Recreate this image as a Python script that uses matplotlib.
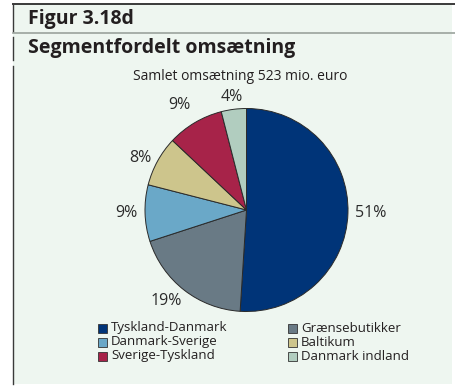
import matplotlib.pyplot as plt
from matplotlib.patches import Rectangle
from matplotlib.lines import Line2D

# omsaetning fordelt paa segmenter, procent
segments = ['Tyskland-Danmark', 'Grænsebutikker', 'Danmark-Sverige',
            'Baltikum', 'Sverige-Tyskland', 'Danmark indland']
shares = [51, 19, 9, 8, 9, 4]
colors = ['#003478', '#697a85', '#6aa8c8', '#cdc58c', '#a72349', '#b1cdbf']

W, H = 456, 387
bg = '#eef6f0'
txt = '#231f20'

plt.rcParams['font.family'] = ['Open Sans', 'DejaVu Sans']

fig = plt.figure(figsize=(W / 100, H / 100), dpi=100)
fig.patch.set_facecolor('white')

def px(x, y):
    return x / W, 1 - y / H

# baggrund og rammelinjer
fig.patches.append(Rectangle(px(13, 384), (452 - 13) / W, (384 - 4) / H,
                             transform=fig.transFigure, facecolor=bg,
                             edgecolor='none', zorder=-5))
for (x0, y0, x1, y1, c, lw) in [(13, 4, 456, 4, '#3a3a3a', 1.4),
                                (13, 33, 456, 33, '#9aa39c', 1.2),
                                (13, 4, 13, 31, '#3a3a3a', 1.0),
                                (13, 37, 13, 60, '#3a3a3a', 1.0),
                                (13, 66, 13, 384, '#3a3a3a', 1.0)]:
    a, b = px(x0, y0)
    c2, d = px(x1, y1)
    fig.lines.append(Line2D([a, c2], [b, d], transform=fig.transFigure,
                            color=c, lw=lw))

fig.text(*px(28, 19), 'Figur 3.18d', fontsize=14, fontweight='bold',
         color=txt, va='center', ha='left')
fig.text(*px(28, 48), 'Segmentfordelt omsætning', fontsize=14,
         fontweight='bold', color=txt, va='center', ha='left')
fig.text(*px(240, 77), 'Samlet omsætning 523 mio. euro', fontsize=10,
         color=txt, va='center', ha='center')

# lagkage
cx, cy, r = 246.5, 210, 101.5
side = 2 * r
ax = fig.add_axes([(cx - r) / W, 1 - (cy + r) / H, side / W, side / H])
ax.patch.set_visible(False)
wedges, texts = ax.pie(shares, colors=colors, startangle=90, counterclock=False,
                       labels=[f'{s}%' for s in shares], labeldistance=1.07,
                       radius=1.0,
                       wedgeprops=dict(edgecolor='#2a2a2a', linewidth=0.7),
                       textprops=dict(fontsize=11.5, color='#2b2b2b'))
ax.set_xlim(-1, 1)
ax.set_ylim(-1, 1)
ax.set_aspect('equal')
ax.axis('off')

# finjustering af labels
texts[4].set_position((-0.55, 1.03))
texts[5].set_position((-0.04, 1.11))
texts[1].set_position((-0.64, -0.9))

# forklaring
rows = [328, 342, 356]
cols = [(98, 111), (288, 301)]
for i, (name, col) in enumerate(zip(segments, colors)):
    bx, tx = cols[i % 2]
    y = rows[i // 2]
    fig.patches.append(Rectangle(px(bx, y + 4.5), 9 / W, 9 / H,
                                 transform=fig.transFigure, facecolor=col,
                                 edgecolor='#333333', linewidth=0.6, zorder=2))
    fig.text(*px(tx, y), name, fontsize=9.5, color=txt, va='center', ha='left')

fig.savefig('out.png', dpi=100, facecolor=fig.get_facecolor())
